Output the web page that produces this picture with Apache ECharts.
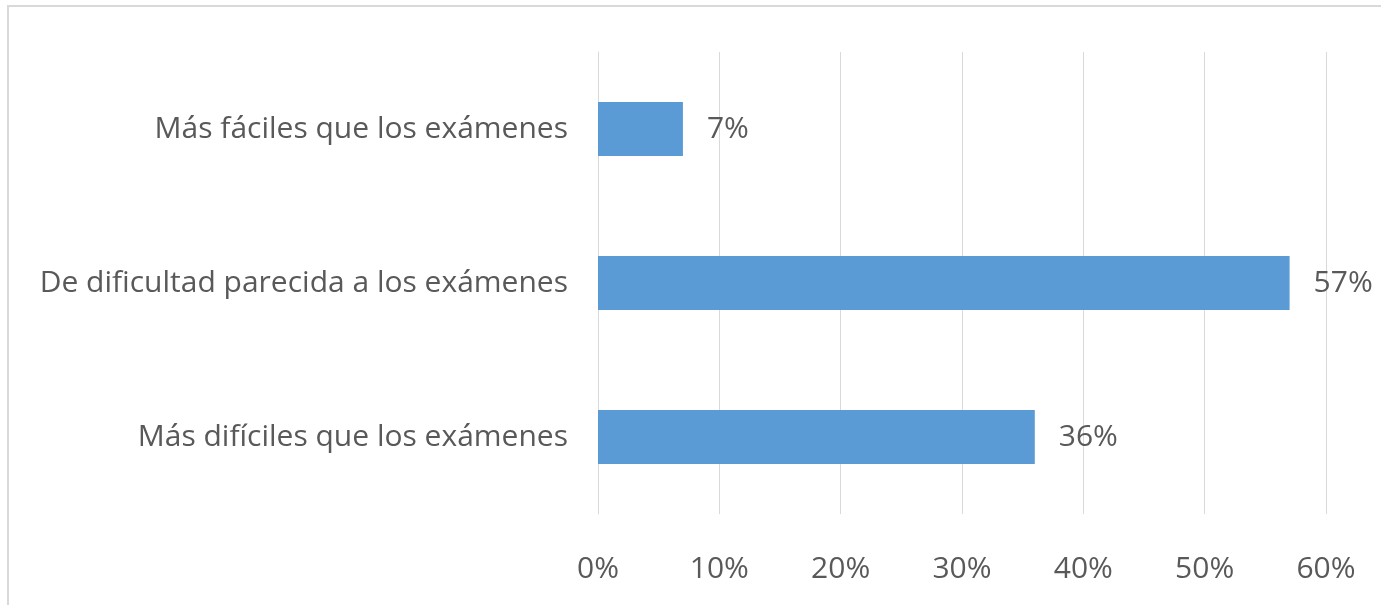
<!DOCTYPE html>
<html>
<head>
<meta charset="utf-8">
<script src="https://cdn.jsdelivr.net/npm/echarts@6/dist/echarts.min.js"></script>
<style>
  html, body { margin: 0; padding: 0; background: #fff; }
  #wrap { position: relative; width: 1381px; height: 605px; overflow: hidden; }
  #frame { position: absolute; left: 7px; top: 5px; width: 1400px; height: 700px;
           border-top: 2px solid #d9d9d9; border-left: 2px solid #d9d9d9; }
  #chart { position: absolute; left: 0; top: 0; width: 1381px; height: 605px; }
</style>
</head>
<body>
<div id="wrap">
  <div id="frame"></div>
  <div id="chart"></div>
</div>
<script>
// categories, bottom to top as in the picture
const categories = ['Más difíciles que los exámenes', 'De dificultad parecida a los exámenes', 'Más fáciles que los exámenes'];
const values = [36, 57, 7];
const tickLabels = ['0%', '10%', '20%', '30%', '40%', '50%', '60%'];

const chart = echarts.init(document.getElementById('chart'));

const font = 'Open Sans';

var option = {
  animation: false,
  grid: {
    left: 598,
    right: 55,
    top: 52,
    bottom: 91
  },
  xAxis: {
    type: 'value',
    min: 0,
    max: 60,
    interval: 10,
    axisLine: { show: false },
    axisTick: { show: false },
    splitLine: {
      show: true,
      lineStyle: { color: '#d9d9d9', width: 1 }
    },
    axisLabel: {
      margin: 40,
      color: '#595959',
      fontFamily: font,
      fontSize: 30,
      formatter: function (v) { return tickLabels[v / 10]; }
    }
  },
  yAxis: {
    type: 'category',
    data: categories,
    axisLine: { show: true, lineStyle: { color: '#d9d9d9', width: 1 } },
    axisTick: { show: false },
    axisLabel: {
      margin: 30,
      color: '#595959',
      fontFamily: font,
      fontSize: 30
    }
  },
  series: [{
    type: 'bar',
    data: values,
    barWidth: 54,
    itemStyle: { color: '#5b9bd5' },
    label: {
      show: true,
      position: 'right',
      distance: 24,
      color: '#595959',
      fontFamily: font,
      fontSize: 30,
      formatter: '{c}%'
    }
  }]
};

chart.setOption(option);
</script>
</body>
</html>
